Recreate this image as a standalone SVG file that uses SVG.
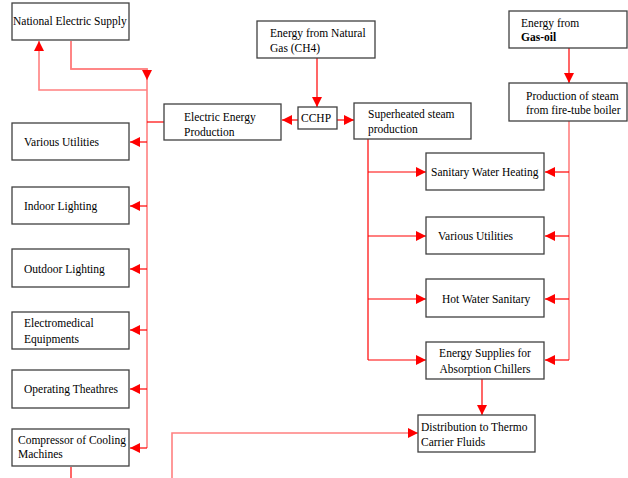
<svg xmlns="http://www.w3.org/2000/svg" width="628" height="478" viewBox="0 0 628 478">
<defs>
<marker id="ah" viewBox="0 0 10 10" refX="10" refY="5" markerWidth="10" markerHeight="10" markerUnits="userSpaceOnUse" orient="auto">
<path d="M0,0 L10,5 L0,10 Z" fill="#FF0000"/>
</marker>
</defs>
<style>
.box{fill:#FFFFFF;stroke:#404040;stroke-width:1.3}
.t{font-family:"Liberation Serif","Times New Roman",serif;font-size:11.5px;fill:#000000}
.r{fill:none;stroke:#FF0000;stroke-width:1.2}
.p{fill:none;stroke:#FF8080;stroke-width:1.6}
</style>
<rect width="628" height="478" fill="#FFFFFF"/>
<g id="connectors">
<path class="p" d="M71,41 V69 H147 V448"/>
<path class="p" d="M71,41 V69 H147 V80" marker-end="url(#ah)"/>
<path class="p" d="M147,90 H39 V41" marker-end="url(#ah)"/>
<path class="r" d="M164,122 H147"/>
<path class="r" d="M147,142 H130" marker-end="url(#ah)"/>
<path class="r" d="M147,206 H130" marker-end="url(#ah)"/>
<path class="r" d="M147,269 H130" marker-end="url(#ah)"/>
<path class="r" d="M147,330 H130" marker-end="url(#ah)"/>
<path class="r" d="M147,389 H130" marker-end="url(#ah)"/>
<path class="r" d="M147,448 H130" marker-end="url(#ah)"/>
<path class="r" d="M317,58 V107" marker-end="url(#ah)"/>
<path class="r" d="M298,120 H282" marker-end="url(#ah)"/>
<path class="r" d="M337,120 H354" marker-end="url(#ah)"/>
<path class="r" d="M569,48 V83" marker-end="url(#ah)"/>
<path class="r" d="M368,139 V360"/>
<path class="r" d="M368,172 H426" marker-end="url(#ah)"/>
<path class="r" d="M368,236 H426" marker-end="url(#ah)"/>
<path class="r" d="M368,299 H426" marker-end="url(#ah)"/>
<path class="r" d="M368,360 H426" marker-end="url(#ah)"/>
<path class="p" d="M569,121 V360"/>
<path class="r" d="M569,172 H545" marker-end="url(#ah)"/>
<path class="r" d="M569,236 H545" marker-end="url(#ah)"/>
<path class="r" d="M569,299 H545" marker-end="url(#ah)"/>
<path class="r" d="M569,360 H545" marker-end="url(#ah)"/>
<path class="r" d="M482,379 V415" marker-end="url(#ah)"/>
<path class="p" d="M172,478 V433 H418" marker-end="url(#ah)"/>
<path class="r" d="M71,467 V478"/>
</g>
<g id="national">
<rect class="box" x="12" y="3" width="117" height="37"/>
<text class="t" x="13" y="25">National Electric Supply</text>
</g>
<g id="natgas">
<rect class="box" x="257" y="21" width="118" height="37"/>
<text class="t" x="270" y="37">Energy from Natural</text>
<text class="t" x="270" y="52">Gas (CH4)</text>
</g>
<g id="gasoil">
<rect class="box" x="509" y="11" width="118" height="37"/>
<text class="t" x="521" y="27">Energy from</text>
<text class="t" x="521" y="41" font-weight="bold">Gas-oil</text>
</g>
<g id="electric">
<rect class="box" x="164" y="104" width="117" height="36"/>
<text class="t" x="184" y="121">Electric Energy</text>
<text class="t" x="184" y="136">Production</text>
</g>
<g id="cchp">
<rect class="box" x="298" y="107" width="39" height="22"/>
<text class="t" x="301" y="122">CCHP</text>
</g>
<g id="superheated">
<rect class="box" x="354" y="103" width="117" height="36"/>
<text class="t" x="368" y="118">Superheated steam</text>
<text class="t" x="368" y="133">production</text>
</g>
<g id="steam">
<rect class="box" x="509" y="83" width="118" height="38"/>
<text class="t" x="526" y="100">Production of steam</text>
<text class="t" x="526" y="114">from fire-tube boiler</text>
</g>
<g id="various-left">
<rect class="box" x="12" y="123" width="117" height="37"/>
<text class="t" x="24" y="146">Various Utilities</text>
</g>
<g id="indoor">
<rect class="box" x="12" y="187" width="117" height="37"/>
<text class="t" x="24" y="210">Indoor Lighting</text>
</g>
<g id="outdoor">
<rect class="box" x="12" y="249" width="117" height="38"/>
<text class="t" x="24" y="273">Outdoor Lighting</text>
</g>
<g id="electromedical">
<rect class="box" x="12" y="312" width="117" height="37"/>
<text class="t" x="24" y="327">Electromedical</text>
<text class="t" x="24" y="343">Equipments</text>
</g>
<g id="operating">
<rect class="box" x="12" y="370" width="117" height="38"/>
<text class="t" x="24" y="393">Operating Theathres</text>
</g>
<g id="compressor">
<rect class="box" x="12" y="429" width="117" height="37"/>
<text class="t" x="18" y="444">Compressor of Cooling</text>
<text class="t" x="18" y="458">Machines</text>
</g>
<g id="sanitary-heating">
<rect class="box" x="426" y="153" width="118" height="37"/>
<text class="t" x="431" y="176">Sanitary Water Heating</text>
</g>
<g id="various-right">
<rect class="box" x="426" y="217" width="118" height="37"/>
<text class="t" x="438" y="240">Various Utilities</text>
</g>
<g id="hot-water">
<rect class="box" x="426" y="279" width="118" height="38"/>
<text class="t" x="442" y="303">Hot Water Sanitary</text>
</g>
<g id="absorption">
<rect class="box" x="426" y="342" width="118" height="37"/>
<text class="t" x="485" y="357" text-anchor="middle">Energy Supplies for</text>
<text class="t" x="485" y="373" text-anchor="middle">Absorption Chillers</text>
</g>
<g id="distribution">
<rect class="box" x="418" y="415" width="117" height="37"/>
<text class="t" x="421" y="431">Distribution to Thermo</text>
<text class="t" x="421" y="446">Carrier Fluids</text>
</g>
</svg>
